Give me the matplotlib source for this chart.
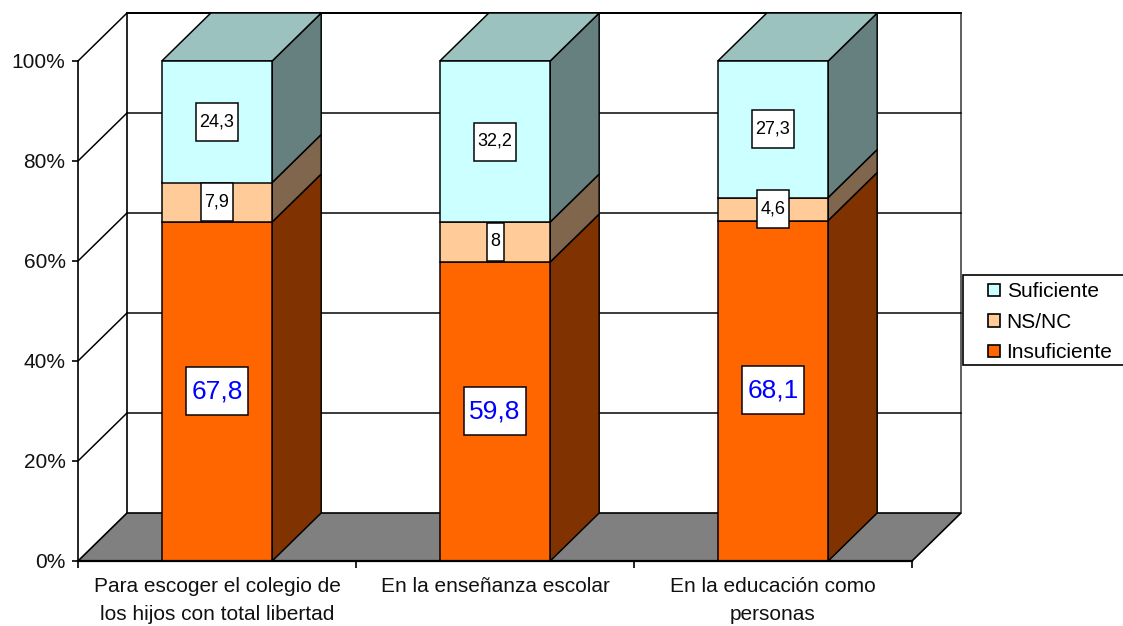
import numpy as np
import matplotlib
matplotlib.use("Agg")
import matplotlib.pyplot as plt
from matplotlib.patches import Polygon, Patch, Rectangle
from matplotlib.path import Path

plt.rcParams['font.family'] = ['Liberation Sans', 'DejaVu Sans']

categories = ["Para escoger el colegio de\nlos hijos con total libertad",
              "En la enseñanza escolar",
              "En la educación como\npersonas"]
series_names = ["Insuficiente", "NS/NC", "Suficiente"]
insuficiente = [67.8, 59.8, 68.1]
nsnc = [7.9, 8, 4.6]
suficiente = [24.3, 32.2, 27.3]
label_text = [["67,8", "59,8", "68,1"], ["7,9", "8", "4,6"], ["24,3", "32,2", "27,3"]]
y_ticks = [0, 20, 40, 60, 80, 100]

front_colors = ["#FF6600", "#FFCC99", "#CCFFFF"]
side_colors = ["#803300", "#80664D", "#668080"]
top_color = "#9CC2C0"
floor_color = "#808080"
LW = 1.2
DX, DY = 49 / 278, 9.6
BAR_W = 0.397

fig = plt.figure(figsize=(11.23, 6.26), dpi=100, facecolor="white")
ax = fig.add_axes([78 / 1123, 65 / 626, 834 / 1123, 500 / 626])
ax.set_xlim(0, 3)
ax.set_ylim(0, 100)
ax.patch.set_visible(False)
for s in ("top", "right"):
    ax.spines[s].set_visible(False)
ax.spines["left"].set_linewidth(LW)
ax.spines["bottom"].set_linewidth(1.6)
ax.spines["left"].set_zorder(3)
ax.spines["bottom"].set_zorder(6)

# Walls, gridlines and floor
ax.plot([DX, DX], [DY, 100 + DY], color="black", lw=LW, clip_on=False, zorder=1)
ax.plot([DX, 3 + DX], [100 + DY, 100 + DY], color="black", lw=LW + 0.2, clip_on=False, zorder=1)
ax.plot([3 + DX, 3 + DX], [DY, 100 + DY], color="#444444", lw=LW, clip_on=False, zorder=1)
for t in y_ticks[1:]:
    ax.plot([DX, 3 + DX], [t + DY, t + DY], color="black", lw=LW * 0.9, clip_on=False, zorder=1)
    ax.plot([0, DX], [t, t + DY], color="black", lw=LW * 0.9, clip_on=False, zorder=1)
ax.add_patch(Polygon([(0, 0), (3, 0), (3 + DX, DY), (DX, DY)], closed=True,
                     facecolor=floor_color, edgecolor="black", lw=LW, clip_on=False, zorder=2))


def label_box(hpad, height):
    def box(x0, y0, w, h, mutation_size):
        cy = y0 + h / 2
        x1, x2 = x0 - hpad, x0 + w + hpad
        y1, y2 = cy - height / 2, cy + height / 2
        return Path([(x1, y1), (x2, y1), (x2, y2), (x1, y2), (x1, y1)], closed=True)
    return box


# Stacked 3D bars
series = [insuficiente, nsnc, suficiente]
for i in range(len(categories)):
    cx = i + 0.5
    x0, x1 = cx - BAR_W / 2, cx + BAR_W / 2
    bottom = 0.0
    for j, vals in enumerate(series):
        top = bottom + vals[i]
        ax.add_patch(Polygon([(x1, bottom), (x1 + DX, bottom + DY), (x1 + DX, top + DY), (x1, top)],
                             closed=True, facecolor=side_colors[j], edgecolor="black",
                             lw=LW * 0.9, clip_on=False, zorder=4))
        ax.add_patch(Rectangle((x0, bottom), BAR_W, vals[i], facecolor=front_colors[j],
                               edgecolor="black", lw=LW * 0.9, clip_on=False, zorder=5))
        big = j == 0
        ax.text(cx, bottom + vals[i] / 2 + (0.1 if big else 0), label_text[j][i],
                ha="center", va="center",
                fontsize=19 if big else 13,
                color="#0000FF" if big else "black", zorder=8,
                bbox=dict(boxstyle=label_box(5 if big else 3.5, 48 if big else 38),
                          facecolor="white", edgecolor="black", linewidth=LW * 0.9))
        bottom = top
    ax.add_patch(Polygon([(x0, bottom), (x1, bottom), (x1 + DX, bottom + DY), (x0 + DX, bottom + DY)],
                         closed=True, facecolor=top_color, edgecolor="black", lw=LW * 0.9,
                         clip_on=False, zorder=4))

# Axes ticks and labels
ax.set_yticks(y_ticks)
ax.set_yticklabels([f"{t}%" for t in y_ticks], fontsize=15, color="#111111")
ax.tick_params(axis="y", length=4.5, width=LW, pad=4.5)
ax.set_xticks([0, 1, 2, 3])
ax.set_xticklabels([])
ax.tick_params(axis="x", which="major", length=5, width=LW)
ax.set_xticks([0.5, 1.5, 2.5], minor=True)
ax.set_xticklabels(categories, minor=True, fontsize=15, color="#111111",
                   linespacing=1.62)
ax.tick_params(axis="x", which="minor", length=0, pad=11.5)

# Legend
fig.add_artist(Rectangle((963 / 1123, 1 - 365 / 626), 170 / 1123, 90 / 626,
                         transform=fig.transFigure, facecolor="white",
                         edgecolor="black", lw=LW))
handles = [Patch(facecolor=front_colors[k], edgecolor="black", lw=LW, label=series_names[k])
           for k in (2, 1, 0)]
fig.legend(handles=handles, loc="upper left",
           bbox_to_anchor=(981 / 1123, 1 - 275 / 626), frameon=False,
           fontsize=15, handlelength=0.55, handleheight=0.55, handletextpad=0.33,
           labelspacing=0.55, borderpad=0.35, borderaxespad=0).set_zorder(10)

fig.savefig("out.png", dpi=100)
